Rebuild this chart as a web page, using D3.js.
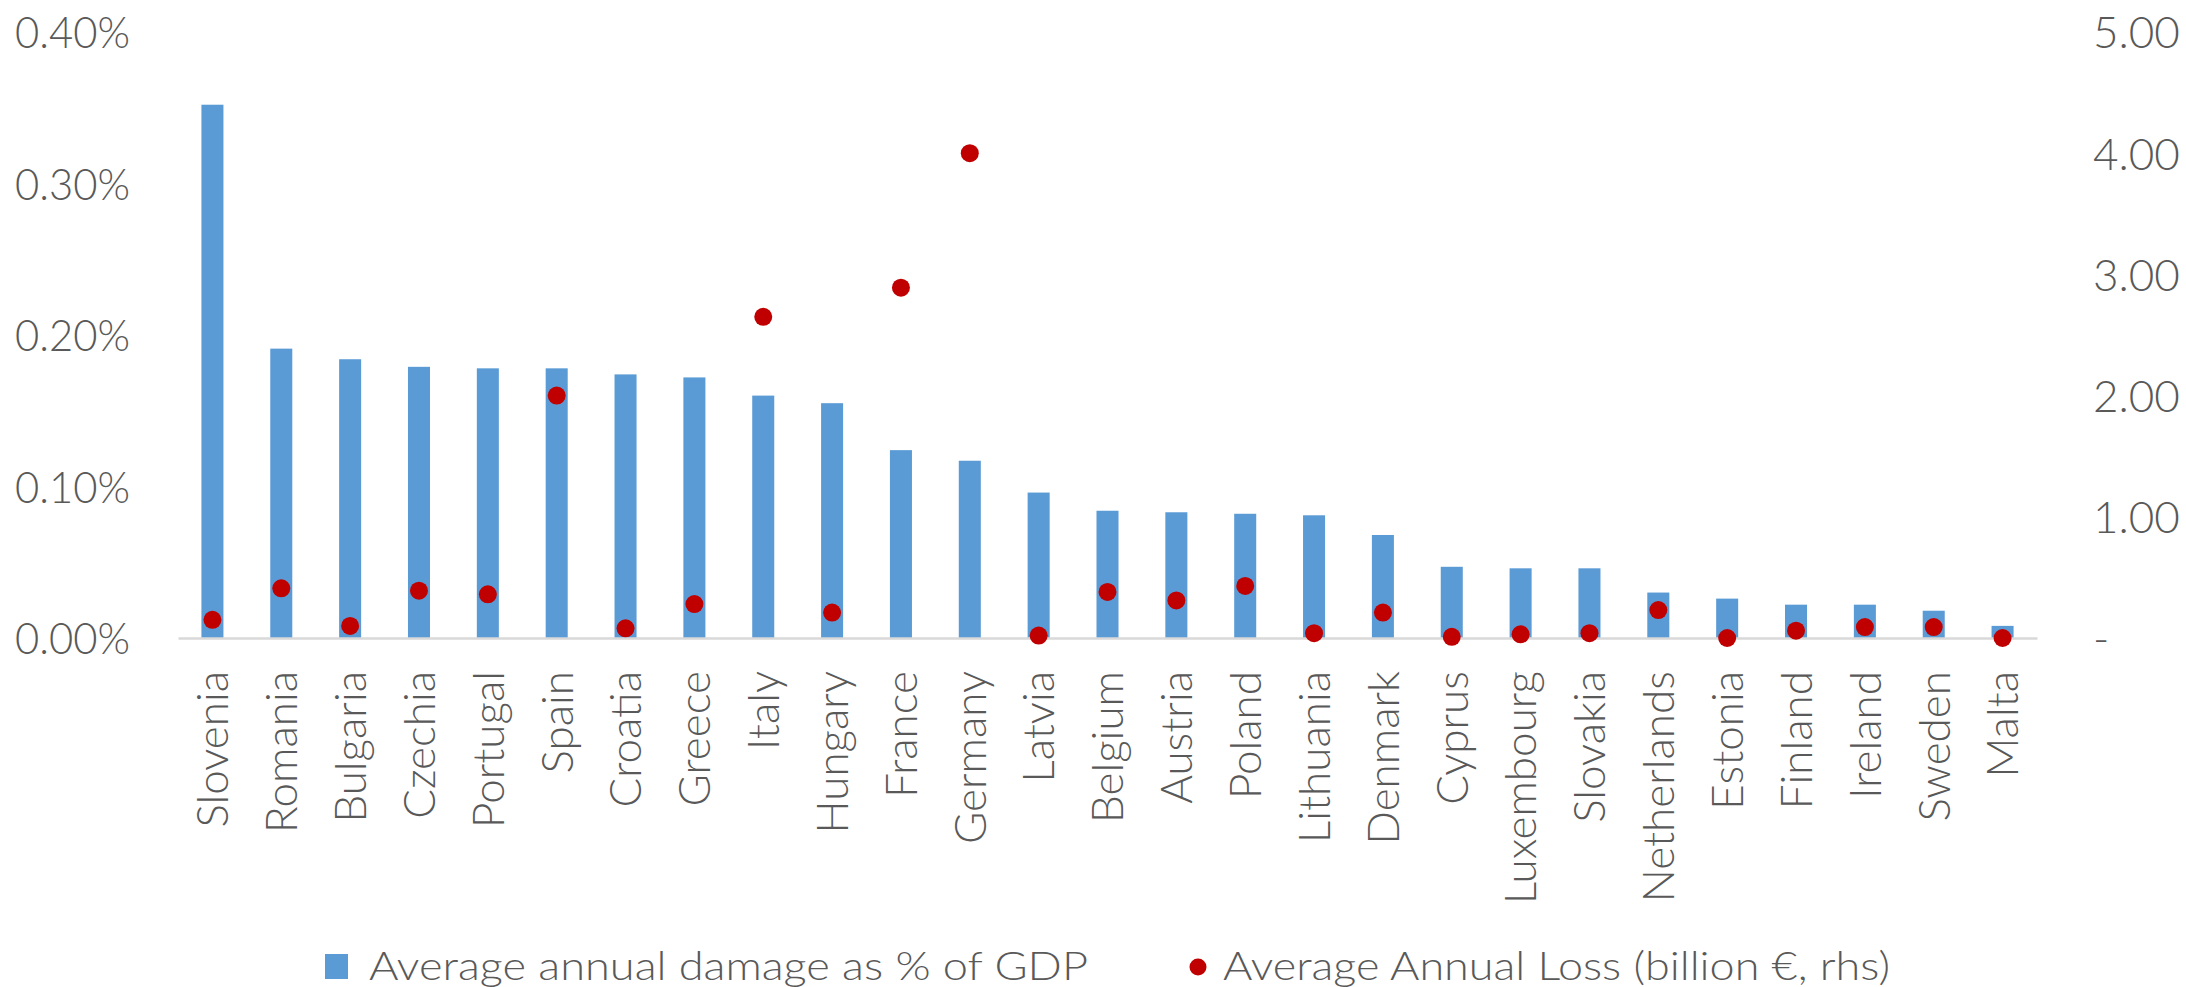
<!DOCTYPE html>
<html>
<head>
<meta charset="utf-8">
<script src="https://cdn.jsdelivr.net/npm/d3@7"></script>
<style>
  html, body { margin: 0; padding: 0; background: #fff; }
  svg text { font-family: Lato, "Open Sans", sans-serif; font-weight: 300; fill: #595959; }
</style>
</head>
<body>
<div id="chart"></div>
<script>
// categories, sorted by damage as share of GDP
const countries = [
  "Slovenia", "Romania", "Bulgaria", "Czechia", "Portugal", "Spain", "Croatia",
  "Greece", "Italy", "Hungary", "France", "Germany", "Latvia", "Belgium",
  "Austria", "Poland", "Lithuania", "Denmark", "Cyprus", "Luxembourg",
  "Slovakia", "Netherlands", "Estonia", "Finland", "Ireland", "Sweden", "Malta"
];

// average annual damage as % of GDP (left axis)
const damagePctGdp = [
  0.352, 0.191, 0.184, 0.179, 0.178, 0.178, 0.174,
  0.172, 0.160, 0.155, 0.124, 0.117, 0.096, 0.084,
  0.083, 0.082, 0.081, 0.068, 0.047, 0.046,
  0.046, 0.030, 0.026, 0.022, 0.022, 0.018, 0.008
];

// average annual loss, billion euro (right axis)
const annualLossBn = [
  0.15, 0.41, 0.10, 0.39, 0.36, 2.00, 0.08,
  0.28, 2.65, 0.21, 2.89, 4.00, 0.02, 0.38,
  0.31, 0.43, 0.04, 0.21, 0.01, 0.03,
  0.04, 0.23, 0.00, 0.06, 0.09, 0.09, 0.00
];

const leftTicks = [0, 0.1, 0.2, 0.3, 0.4];
const rightTicks = [0, 1, 2, 3, 4, 5];
const legendLabels = [
  "Average annual damage as % of GDP",
  "Average Annual Loss (billion €, rhs)"
];

const width = 2186;
const height = 987;
const barColor = "#5b9bd5";
const dotColor = "#c00000";

const data = countries.map((c, i) => ({
  country: c,
  pct: damagePctGdp[i],
  loss: annualLossBn[i]
}));

const svg = d3
  .select("#chart")
  .append("svg")
  .attr("width", width)
  .attr("height", height)
  .attr("viewBox", [0, 0, width, height]);

// scales
const x = d3
  .scaleBand()
  .domain(countries)
  .range([178, 2037])
  .paddingInner(0.68)
  .paddingOuter(0.34);

const yLeft = d3.scaleLinear().domain([0, 0.4]).range([638, 32]);
const yRight = d3.scaleLinear().domain([0, 5]).range([638, 32]);

// left axis (percent of GDP)
const leftAxis = svg
  .append("g")
  .attr("transform", "translate(130,0)")
  .call(
    d3.axisLeft(yLeft)
      .tickValues(leftTicks)
      .tickSize(0)
      .tickPadding(0)
      .tickFormat((d) => d.toFixed(2) + "%")
  );
leftAxis.select(".domain").remove();
leftAxis
  .selectAll("text")
  .attr("font-size", 44)
  .attr("dy", "0.36em")
  .attr("textLength", 115)
  .attr("lengthAdjust", "spacingAndGlyphs");

// right axis (billion euro)
const rightAxis = svg
  .append("g")
  .attr("transform", "translate(2093,0)")
  .call(
    d3.axisRight(yRight)
      .tickValues(rightTicks)
      .tickSize(0)
      .tickPadding(0)
      .tickFormat((d) => (d === 0 ? "-" : d.toFixed(2)))
  );
rightAxis.select(".domain").remove();
rightAxis
  .selectAll("text")
  .attr("font-size", 44)
  .attr("dy", "0.36em");

// bars
svg
  .append("g")
  .selectAll(".bar")
  .data(data)
  .join("rect")
  .attr("class", "bar")
  .attr("x", (d) => x(d.country))
  .attr("y", (d) => yLeft(d.pct))
  .attr("width", x.bandwidth())
  .attr("height", (d) => yLeft(0) - yLeft(d.pct))
  .attr("fill", barColor);

// category axis
const xAxis = svg
  .append("g")
  .attr("transform", `translate(0,${yLeft(0)})`)
  .call(d3.axisBottom(x).tickSize(0).tickSizeOuter(0));
xAxis
  .select(".domain")
  .attr("stroke", "#d9d9d9")
  .attr("stroke-width", 2.5);
xAxis
  .selectAll("text")
  .attr("font-size", 44)
  .attr("text-anchor", "end")
  .attr("transform", "rotate(-90)")
  .attr("x", -33)
  .attr("y", 0)
  .attr("dy", "0.36em");

// loss markers
svg
  .append("g")
  .selectAll(".loss")
  .data(data)
  .join("circle")
  .attr("class", "loss")
  .attr("cx", (d) => x(d.country) + x.bandwidth() / 2)
  .attr("cy", (d) => yRight(d.loss))
  .attr("r", 9)
  .attr("fill", dotColor);

// legend
const legend = svg.append("g").attr("class", "legend");

legend
  .append("rect")
  .attr("x", 325)
  .attr("y", 954)
  .attr("width", 23)
  .attr("height", 25)
  .attr("fill", barColor);

legend
  .append("text")
  .attr("x", 369)
  .attr("y", 980)
  .attr("font-size", 39)
  .attr("textLength", 719)
  .attr("lengthAdjust", "spacingAndGlyphs")
  .text(legendLabels[0]);

legend
  .append("circle")
  .attr("cx", 1198)
  .attr("cy", 967)
  .attr("r", 8.5)
  .attr("fill", dotColor);

legend
  .append("text")
  .attr("x", 1223)
  .attr("y", 980)
  .attr("font-size", 39)
  .attr("textLength", 667)
  .attr("lengthAdjust", "spacingAndGlyphs")
  .text(legendLabels[1]);
</script>
</body>
</html>
